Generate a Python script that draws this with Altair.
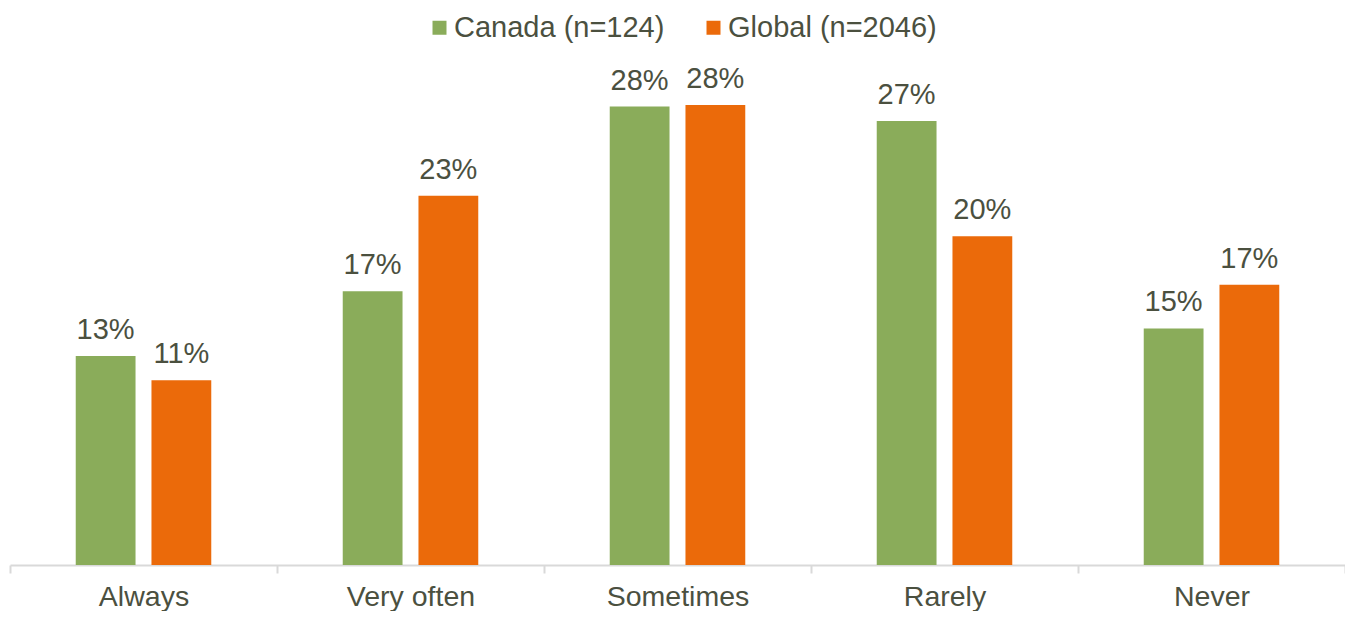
import altair as alt
import pandas as pd

categories = ["Always", "Very often", "Sometimes", "Rarely", "Never"]
series = ["Canada (n=124)", "Global (n=2046)"]
canada = [12.9, 16.9, 28.3, 27.4, 14.6]
global_ = [11.4, 22.8, 28.4, 20.3, 17.3]
canada_labels = ["13%", "17%", "28%", "27%", "15%"]
global_labels = ["11%", "23%", "28%", "20%", "17%"]
colors = ["#8aac5a", "#eb6a0a"]

rows = []
for i, c in enumerate(categories):
    rows.append({"cat": c, "series": series[0], "value": canada[i], "label": canada_labels[i]})
    rows.append({"cat": c, "series": series[1], "value": global_[i], "label": global_labels[i]})
df = pd.DataFrame(rows)

FONT = "Liberation Sans"
TXT = "#4b503f"
FS = 29

x = alt.X("cat:N", sort=categories, title=None,
          scale=alt.Scale(paddingInner=0, paddingOuter=0),
          axis=alt.Axis(labelAngle=0, labelFontSize=28.5, labelFont=FONT, labelColor=TXT,
                        domainColor="#d9d9d9", tickColor="#d9d9d9", tickSize=8,
                        tickBand="extent", labelPadding=9, domainWidth=2, tickWidth=2))
xo = alt.XOffset("series:N", sort=series,
                 scale=alt.Scale(paddingInner=0.2105, paddingOuter=0.868))
y = alt.Y("value:Q", scale=alt.Scale(domain=[0, 30], nice=False), axis=None)

base = alt.Chart(df).encode(x=x, xOffset=xo, y=y)

bars = base.mark_bar().encode(
    color=alt.Color("series:N", sort=series, scale=alt.Scale(domain=series, range=colors),
                    legend=alt.Legend(title=None, orient="none", direction="horizontal",
                                      legendX=415, legendY=-66, symbolType="square",
                                      symbolSize=196, symbolStrokeWidth=0, labelFontSize=FS,
                                      labelFont=FONT, labelColor=TXT, columnPadding=34,
                                      labelOffset=0, labelLimit=0))
)
labels = base.mark_text(baseline="alphabetic", dy=-17, fontSize=FS, font=FONT, color=TXT).encode(
    text="label:N"
)

chart = (bars + labels).properties(
    width=1335, height=486,
    autosize=alt.AutoSizeParams(type="none"),
    padding={"left": 2, "top": 71, "right": 0, "bottom": 46},
).configure_view(stroke=None)

chart.save("out.html", embed_options={"renderer": "svg", "actions": False})
